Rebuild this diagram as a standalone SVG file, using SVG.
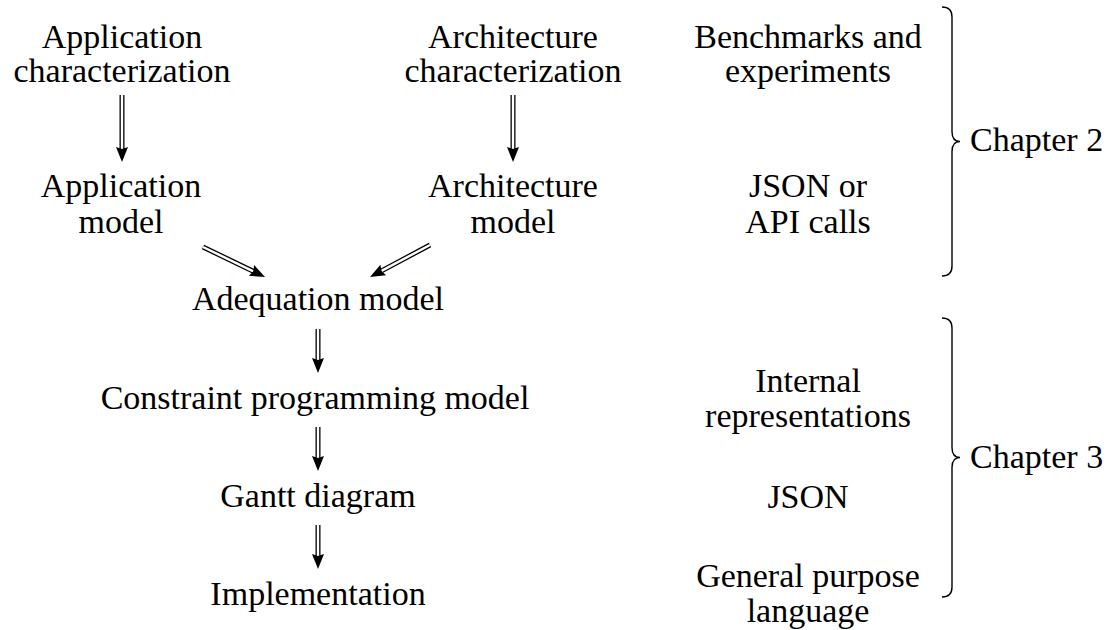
<svg xmlns="http://www.w3.org/2000/svg" width="1115" height="630" viewBox="0 0 1115 630">
<style>
  text { font-size: 34px; fill: #000; text-anchor: middle; }
  text.start { text-anchor: start; }
  .outer { stroke: #000; stroke-width: 5; fill: none; }
  .inner { stroke: #fff; stroke-width: 2.4; fill: none; }
  .brace { stroke: #000; stroke-width: 1.4; fill: none; }
</style>
<defs>
  <path id="head" d="M0,0 L-15,-6 L-13,0 L-15,6 Z" fill="#000"/>
</defs>
<rect width="1115" height="630" fill="#fff"/>

<g style="font-family: 'Liberation Serif', serif">
<g id="app-char"><text x="122" y="48">Application</text><text x="122" y="82">characterization</text></g>
<g id="arch-char"><text x="513" y="48">Architecture</text><text x="513" y="82">characterization</text></g>
<g id="bench"><text x="808" y="48">Benchmarks and</text><text x="808" y="82">experiments</text></g>

<g id="app-model"><text x="121" y="197">Application</text><text x="121" y="233">model</text></g>
<g id="arch-model"><text x="513" y="197">Architecture</text><text x="513" y="233">model</text></g>
<g id="json-api"><text x="808" y="197">JSON or</text><text x="808" y="233">API calls</text></g>

<g id="adequation"><text x="318" y="310">Adequation model</text></g>
<g id="constraint"><text x="315" y="409">Constraint programming model</text></g>
<g id="gantt"><text x="318" y="507">Gantt diagram</text></g>
<g id="implementation"><text x="318" y="605">Implementation</text></g>

<g id="internal"><text x="808" y="392">Internal</text><text x="808" y="427">representations</text></g>
<g id="json"><text x="808" y="508">JSON</text></g>
<g id="general"><text x="808" y="587">General purpose</text><text x="808" y="622">language</text></g>

<g id="chapter2">
  <path class="brace" d="M942,7 Q952,7 952,17 L952,131.5 Q952,141.5 960,141.5 Q952,141.5 952,151.5 L952,266 Q952,276 942,276"/>
  <text class="start" x="970" y="151">Chapter 2</text>
</g>
<g id="chapter3">
  <path class="brace" d="M942,318 Q952,318 952,328 L952,447.5 Q952,457.5 960,457.5 Q952,457.5 952,467.5 L952,587 Q952,597 942,597"/>
  <text class="start" x="970" y="468">Chapter 3</text>
</g>
</g>

<g id="connectors">
  <path class="outer" d="M122,95 V149"/><path class="inner" d="M122,95 V149"/><use href="#head" transform="translate(122,162) rotate(90)"/>
  <path class="outer" d="M513,95 V149"/><path class="inner" d="M513,95 V149"/><use href="#head" transform="translate(513,162) rotate(90)"/>
  <path class="outer" d="M203,247 L253.3,271.3"/><path class="inner" d="M203,247 L253.3,271.3"/><use href="#head" transform="translate(265,277) rotate(25.8)"/>
  <path class="outer" d="M430,245 L381.5,270.9"/><path class="inner" d="M430,245 L381.5,270.9"/><use href="#head" transform="translate(370,277) rotate(151.9)"/>
  <path class="outer" d="M318,329 V360"/><path class="inner" d="M318,329 V360"/><use href="#head" transform="translate(318,373) rotate(90)"/>
  <path class="outer" d="M318,427 V458"/><path class="inner" d="M318,427 V458"/><use href="#head" transform="translate(318,471) rotate(90)"/>
  <path class="outer" d="M318,525 V556"/><path class="inner" d="M318,525 V556"/><use href="#head" transform="translate(318,569) rotate(90)"/>
</g>
</svg>
